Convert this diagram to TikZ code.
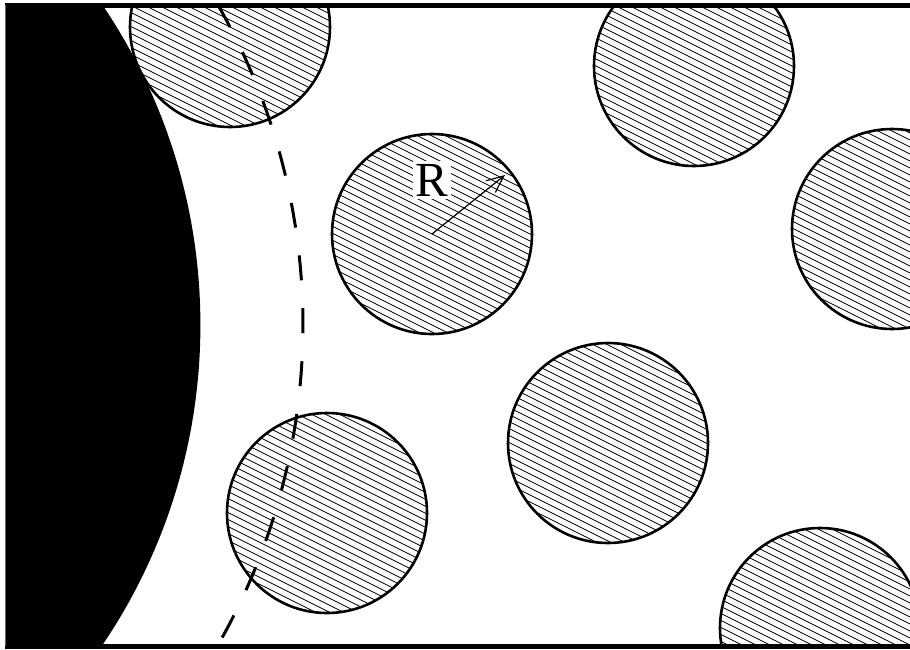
\documentclass[tikz,border=0pt]{standalone}
\usepackage{fontspec}
\setmainfont{Liberation Serif}
\usetikzlibrary{arrows.meta}
\tikzset{
  grain/.style={circle, draw=black, line width=2.6pt, minimum size=200pt, inner sep=0pt,
    path picture={
      \foreach \c in {-196,-189,...,196}
        \draw[black, line width=0.8pt] ([shift={(-130,\c-65)}]path picture bounding box.center) -- ++(260,130);
    }},
  frameline/.style={line width=5pt, black},
  shell/.style={line width=3pt, dash pattern=on 25pt off 28pt},
  rlabel/.style={fill=white, inner sep=3pt, font=\fontsize{49}{51}\selectfont}
}
\begin{document}
\begin{tikzpicture}[x=1pt, y=-1pt]
\useasboundingbox (0,0) rectangle (910,649);
\begin{scope}
  \clip (5,5) rectangle (910,646);
  % big black particle
  \fill[black] (-371,325) circle[radius=571.4];
  % hatched grains
  \node[grain] (g1) at (230,27) {};
  \node[grain] (g2) at (432,234) {};
  \node[grain] (g3) at (694,66) {};
  \node[grain] (g4) at (892,229) {};
  \node[grain] (g5) at (608,443) {};
  \node[grain] (g6) at (327,513) {};
  \node[grain] (g7) at (820,628) {};
  % dashed excluded-volume shell
  \draw[shell] (-342,325) ++(-29.74:645) arc[start angle=-29.74, end angle=29.74, radius=645];
\end{scope}
% frame
\draw[frameline] (5,5.5) -- (910,5.5);
\draw[frameline] (5,646.5) -- (910,646.5);
\draw[line width=0.8pt, black!60] (5,5) -- (5,646);
% radius label and arrow
\node[rlabel] (r) at (432,180) {R};
\coordinate (rtip) at (505,175);
\draw[line width=1.2pt, -{Straight Barb[length=17pt, width=15pt, line width=1.2pt]}] (g2.center) -- (rtip);
\end{tikzpicture}
\end{document}
